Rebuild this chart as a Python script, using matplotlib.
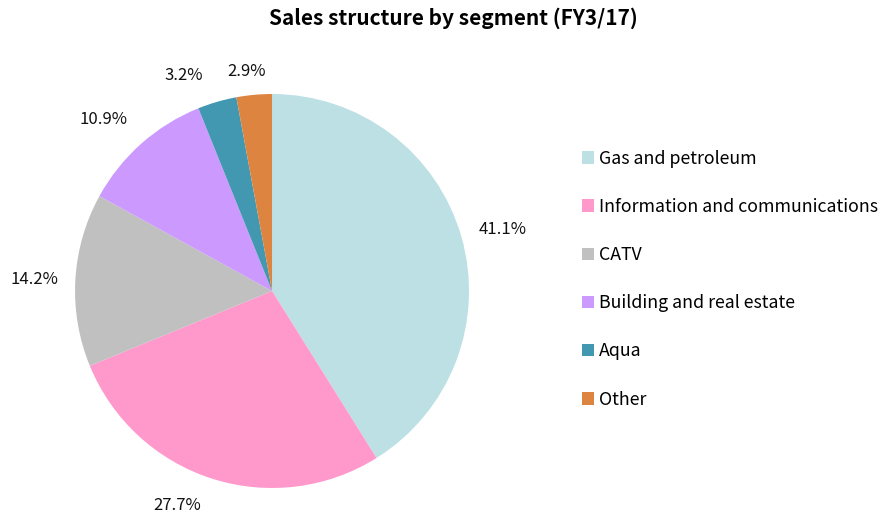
import numpy as np
import matplotlib.pyplot as plt
from matplotlib.patches import Patch

plt.rcParams['font.family'] = ['Noto Sans CJK JP', 'DejaVu Sans']

# Data
segments = ['Gas and petroleum', 'Information and communications', 'CATV',
            'Building and real estate', 'Aqua', 'Other']
shares = [41.1, 27.7, 14.2, 10.9, 3.2, 2.9]
colors = ['#BCE0E3', '#FF99CC', '#C0C0C0', '#CC99FF', '#4198B0', '#DD8540']

# label layout tweaks (angle nudge in degrees, distance in radii)
label_nudge = [-1, -6, 0.5, 3, 6, 1.5]
label_dist = [1.21, 1.19, 1.21, 1.22, 1.18, 1.12]

fig = plt.figure(figsize=(8.88, 5.14), dpi=100)
ax = fig.add_axes([0.0845, 0.0506, 0.4437, 0.7665])

wedges, texts = ax.pie(
    shares,
    colors=colors,
    startangle=90,
    counterclock=False,
    wedgeprops=dict(linewidth=0),
)
ax.set_aspect('equal')
ax.set_xlim(-1, 1)
ax.set_ylim(-1, 1)

# percentage labels outside the pie
for w, v, dn, d in zip(wedges, shares, label_nudge, label_dist):
    ang = np.deg2rad((w.theta1 + w.theta2) / 2 + dn)
    ax.text(d * np.cos(ang), d * np.sin(ang), f'{v:.1f}%',
            ha='center', va='center', fontsize=12, color='#111111')

fig.suptitle('Sales structure by segment (FY3/17)', x=0.51, y=0.985,
             fontsize=15, fontweight='bold')

handles = [Patch(facecolor=c, edgecolor='none') for c in colors]
fig.legend(handles, segments, loc='center left', bbox_to_anchor=(0.655, 0.457),
           frameon=False, fontsize=12.8, handlelength=0.7, handleheight=0.7,
           handletextpad=0.3, labelspacing=1.7, borderpad=0, borderaxespad=0)

plt.savefig('out.png', dpi=100)
